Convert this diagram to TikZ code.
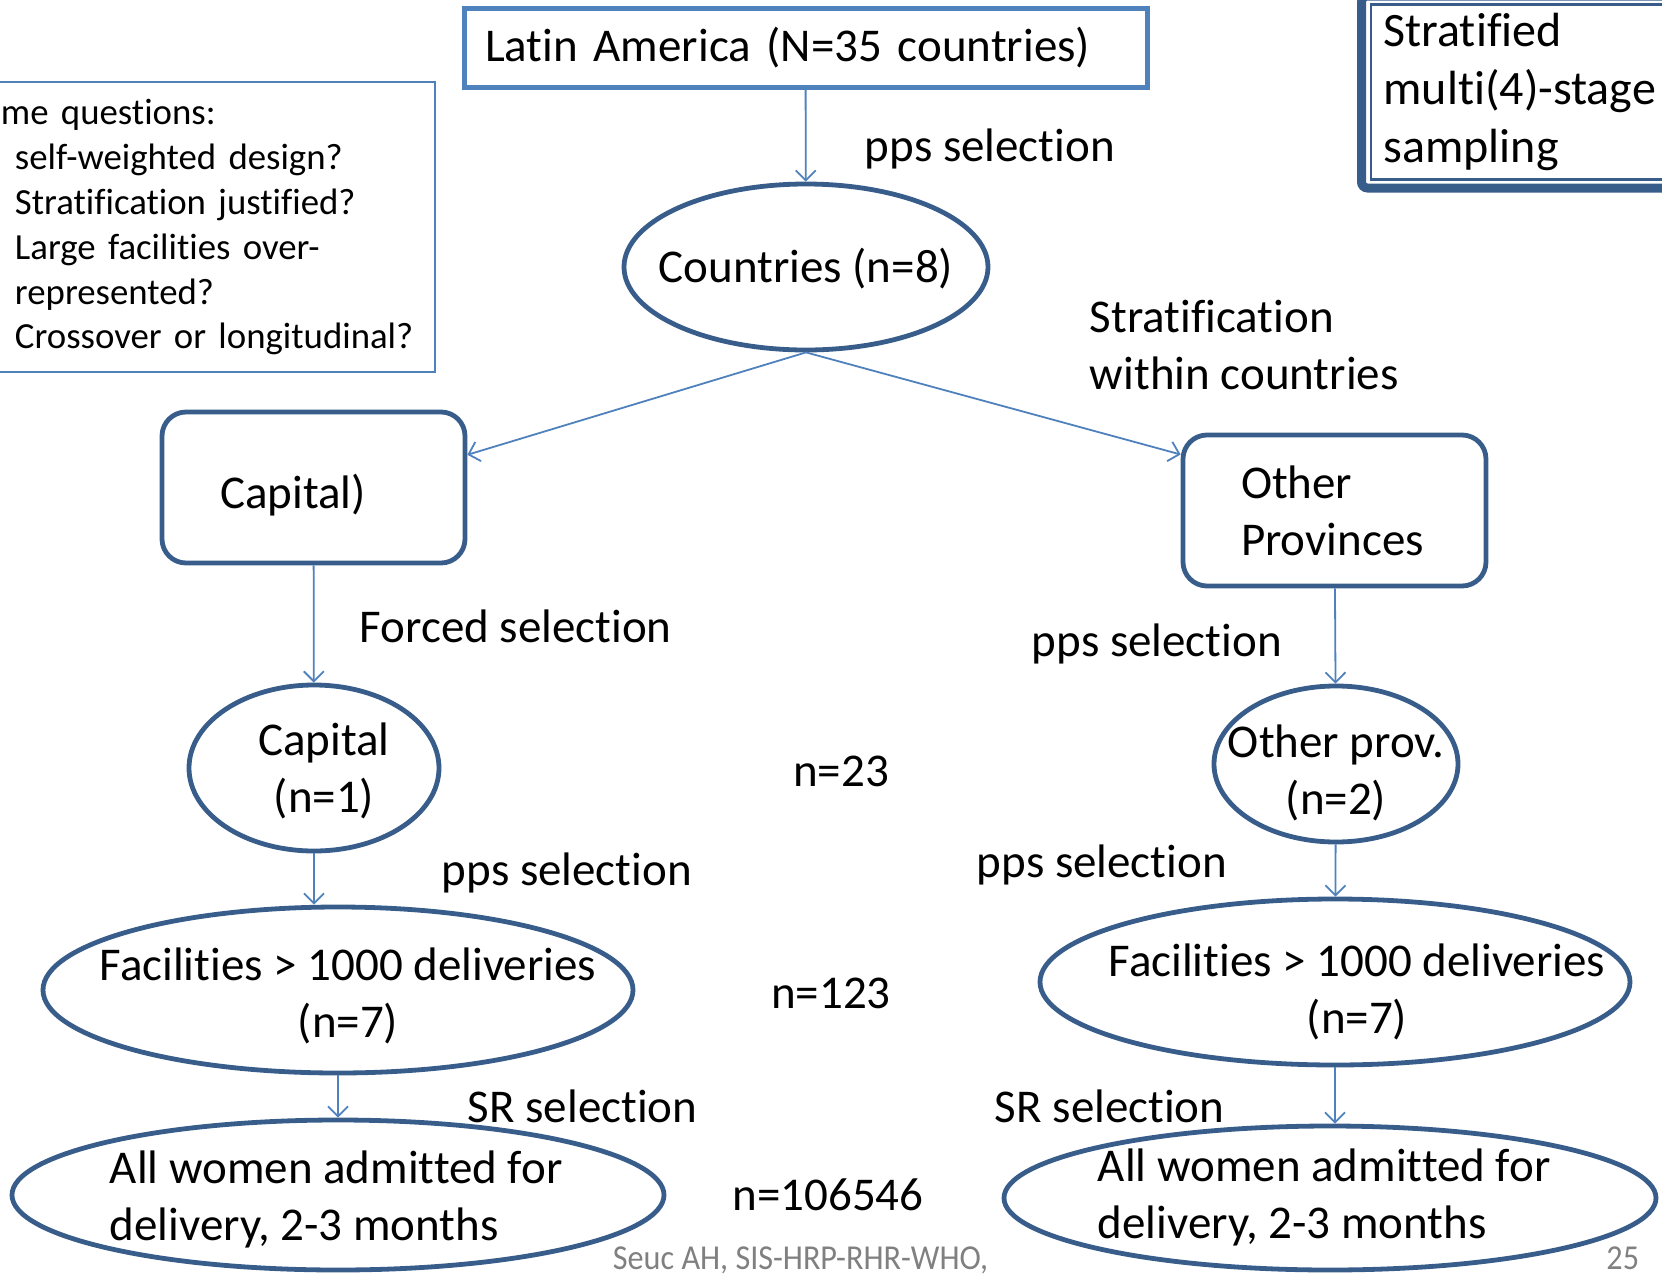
\documentclass[tikz,border=0pt]{standalone}
\usepackage{fontspec}
\setmainfont{Carlito}[Ligatures=NoCommon]
\usetikzlibrary{shapes.geometric,arrows.meta}

\definecolor{lightblue}{RGB}{79,129,189}
\definecolor{darkblue}{RGB}{56,93,138}
\newcommand{\bigfont}{\fontsize{23.5}{28.5}\selectfont}

\tikzset{every picture/.style={line width=0.9pt},
	txt/.style={font=\bigfont, inner sep=0pt, align=center},
	oval/.style={ellipse, draw=darkblue, line width=2.4pt, inner sep=0pt},
	rbox/.style={rectangle, rounded corners=12pt, draw=darkblue, line width=2.4pt, font=\bigfont, align=left, inner xsep=29pt, text width=93.5pt, minimum height=75.5pt},
	topbox/.style={rectangle, draw=lightblue, line width=2.5pt, font=\bigfont, align=left, inner xsep=10.5pt, text width=320.5pt, minimum height=39.5pt},
	stratbox/.style={rectangle, rounded corners=3pt, draw=darkblue, line width=4.5pt, font=\fontsize{24}{29}\selectfont, align=left, inner xsep=11pt, text width=178pt, minimum height=96pt},
	qbox/.style={rectangle, draw=lightblue, line width=1pt, font=\fontsize{18.4}{22.5}\selectfont, align=left, inner xsep=4pt, text width=213pt, minimum height=145pt},
	arr/.style={draw=lightblue, line width=0.9pt, -{Straight Barb[length=5pt,width=10pt]}},
	foot/.style={text=gray, font=\fontsize{17.5}{17.5}\selectfont, inner sep=0pt}
}

\begin{document}
\begin{tikzpicture}[x=0.5pt,y=0.5pt,yscale=-1,xscale=1]
	\useasboundingbox (0,0) rectangle (1662,1275);

	% Boxes
	\node[topbox] (latam) at (805.5,48) {Latin America (N=35 countries)};
	\node[stratbox] (strat) at (1561.5,92) {Stratified\\multi(4)-stage\\sampling};
	\draw[darkblue, line width=1.2pt] ([shift={(14,-13)}]strat.south west) rectangle ([shift={(-14,13)}]strat.north east);
	\node[qbox, anchor=east] (quest) at (436,227) {me questions:\\\hspace*{7pt}self-weighted design?\\\hspace*{7pt}Stratification justified?\\\hspace*{7pt}Large facilities over-\\\hspace*{7pt}represented?\\\hspace*{7pt}Crossover or longitudinal?};
	\node[rbox] (capbox) at (313.5,487.5) {\raisebox{-4pt}[\height][\depth]{Capital)}};
	\node[rbox] (othbox) at (1334.5,510.5) {Other\\Provinces};

	% Ellipses
	\node[oval, minimum width=182pt, minimum height=83pt] (ctry) at (806,267) {};
	\node[oval, minimum width=125pt, minimum height=83pt] (capell) at (314,768) {};
	\node[oval, minimum width=122pt, minimum height=78pt] (othell) at (1336,764) {};
	\node[oval, minimum width=295pt, minimum height=83pt] (facL) at (338,990) {};
	\node[oval, minimum width=295pt, minimum height=83pt] (facR) at (1335,982) {};
	\node[oval, minimum width=326pt, minimum height=75pt] (womL) at (338,1195) {};
	\node[oval, minimum width=326pt, minimum height=72pt] (womR) at (1330,1198) {};

	% Text Node
	\node[txt] (ctryt) at (806,269) {Countries (n=8)};
	% Text Node
	\node[txt] (capellt) at (324,771) {Capital\\(n=1)};
	% Text Node
	\node[txt] (othellt) at (1336,773) {Other prov.\\(n=2)};
	% Text Node
	\node[txt] (facLt) at (348,996) {Facilities > 1000 deliveries\\(n=7)};
	% Text Node
	\node[txt] (facRt) at (1357,992) {Facilities > 1000 deliveries\\(n=7)};
	% Text Node
	\node[txt, align=left, anchor=west] (womLt) at (109,1199) {All women admitted for\\delivery, 2-3 months};
	% Text Node
	\node[txt, align=left, anchor=west] (womRt) at (1097,1197) {All women admitted for\\delivery, 2-3 months};

	% Text Node
	\node[txt, anchor=west] (sel1) at (864,149) {pps selection};
	% Text Node
	\node[txt, align=left, anchor=west] (strata) at (1089,345) {Stratification\\within countries};
	% Text Node
	\node[txt, anchor=west] (forced) at (359,626) {Forced selection};
	% Text Node
	\node[txt, anchor=west] (sel2) at (1031,644) {pps selection};
	% Text Node
	\node[txt] (n23) at (841,771) {n=23};
	% Text Node
	\node[txt, anchor=west] (sel3) at (441,873) {pps selection};
	% Text Node
	\node[txt, anchor=west] (sel4) at (976,865) {pps selection};
	% Text Node
	\node[txt] (n123) at (831,993) {n=123};
	% Text Node
	\node[txt, anchor=west] (sr1) at (467,1106) {SR selection};
	% Text Node
	\node[txt, anchor=west] (sr2) at (994,1106) {SR selection};
	% Text Node
	\node[txt] (nall) at (828,1195) {n=106546};

	% Footer
	\node[foot, anchor=base west] (auth) at (612,1269) {\scalebox{0.92}[1]{Seuc AH, SIS-HRP-RHR-WHO,}};
	\node[foot, anchor=base east] (pnum) at (1640,1269) {\scalebox{0.92}[1]{25}};

	%Straight Lines
	\draw[arr] (latam) -- (ctry);
	\draw[arr] (ctry.south) -- (capbox.12);
	\draw[arr] (ctry.south) -- (othbox.160);
	\draw[arr] (capbox) -- (capell);
	\draw[arr] (othbox) -- (othell);
	\draw[arr] (capell.south) -- (capell.south |- facL.north);
	\draw[arr] (othell) -- (facR);
	\draw[arr] (facL) -- (womL);
	\draw[arr] (facR.south) -- (facR.south |- womR.north);

\end{tikzpicture}
\end{document}
